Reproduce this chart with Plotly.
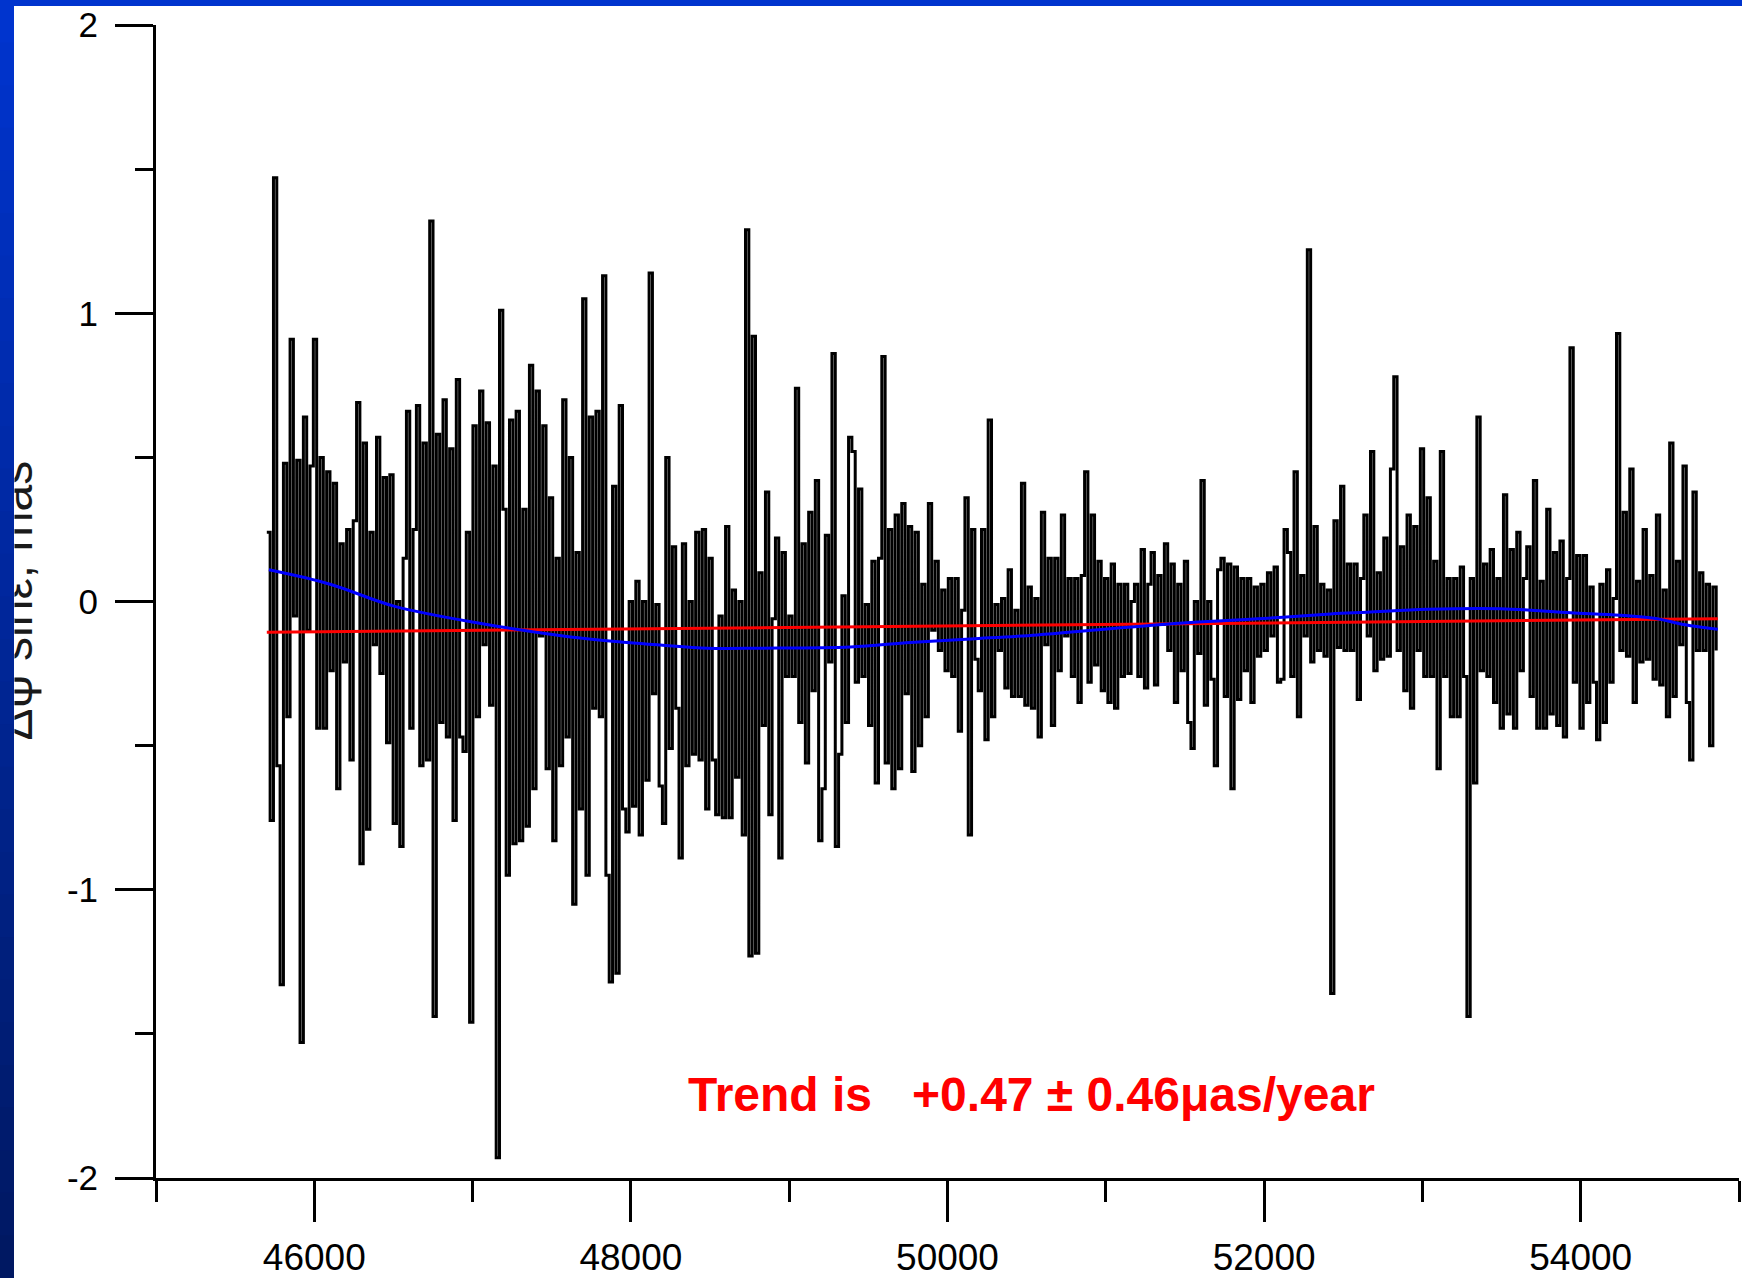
import plotly.graph_objects as go

# ---------------- data ----------------
MJD_START = 45700
MJD_STEP = 21
DPSI_SINE = [
    0.24, -0.76, 1.47, -0.57, -1.33, 0.48, -0.40, 0.91, -0.05, 0.49,
    -1.53, 0.64, -0.10, 0.47, 0.91, -0.44, 0.50, -0.44, 0.45, -0.24,
    0.41, -0.65, 0.20, -0.21, 0.25, -0.55, 0.28, 0.69, -0.91, 0.55,
    -0.79, 0.24, -0.15, 0.57, -0.25, 0.43, -0.49, 0.44, -0.77, 0.00,
    -0.85, 0.15, 0.66, -0.44, 0.25, 0.68, -0.57, 0.55, -0.55, 1.32,
    -1.44, 0.58, -0.42, 0.70, -0.47, 0.53, -0.76, 0.77, -0.47, -0.52,
    0.24, -1.46, 0.61, -0.40, 0.73, -0.15, 0.62, -0.36, 0.47, -1.93,
    1.01, 0.32, -0.95, 0.63, -0.84, 0.66, -0.83, 0.32, -0.78, 0.82,
    -0.65, 0.73, -0.12, 0.61, -0.58, 0.36, -0.83, 0.15, -0.57, 0.70,
    -0.47, 0.50,
    -1.05, 0.17, -0.72, 1.05, -0.95, 0.64, -0.37, 0.66, -0.40, 1.13,
    -0.95, -1.32, 0.40, -1.29, 0.68, -0.72, -0.80, 0.00, -0.71, 0.07,
    -0.81, 0.00, -0.62, 1.14, -0.32, -0.01, -0.64, -0.77, 0.50, -0.51,
    0.19, -0.37, -0.89, 0.20, -0.57, 0.00, -0.53, 0.24, -0.55, 0.25,
    -0.72, 0.15, -0.55, -0.74, -0.05, -0.75, 0.26, -0.75, 0.04, -0.61,
    0.00, -0.81, 1.29, -1.23, 0.92, -1.22, 0.10, -0.43, 0.38, -0.74,
    -0.06, 0.22, -0.89, 0.17, -0.26, -0.05, -0.26, 0.74, -0.42, 0.20,
    -0.56, 0.31, -0.31, 0.42, -0.83, -0.65, 0.23, -0.21, 0.86, -0.85,
    -0.53, 0.02, -0.42, 0.57, 0.52, -0.28, 0.39, -0.26, -0.01, -0.43,
    0.14, -0.63, 0.15,
    0.85, -0.56, 0.25, -0.65, 0.30, -0.58, 0.34, -0.32, 0.26, -0.59,
    0.24, -0.50, 0.06, -0.40, 0.34, -0.10, 0.14, -0.17, 0.04, -0.24,
    0.08, -0.26, 0.08, -0.45, -0.03, 0.36, -0.81, 0.25, -0.20, -0.31,
    0.25, -0.48, 0.63, -0.40, -0.01, -0.17, 0.01, -0.30, 0.11, -0.33,
    -0.03, -0.33, 0.41, -0.36, 0.05, -0.37, 0.01, -0.47, 0.31, -0.15,
    0.15, -0.43, 0.15, -0.24, 0.30, -0.12, 0.08, -0.26, 0.08, -0.35,
    0.09, 0.45, -0.28, 0.30, -0.22, 0.14, -0.31, 0.08, -0.35, 0.13,
    -0.37, 0.06, -0.26, 0.06, -0.25, 0.00, 0.06, -0.26, 0.18, -0.30,
    0.06, 0.17, -0.29, 0.09, -0.08, 0.20, -0.17, 0.13, -0.35, 0.06,
    -0.24, 0.14, -0.42,
    -0.51, 0.00, -0.18, 0.42, -0.36, 0.00, -0.27, -0.57, 0.11, 0.15,
    -0.33, 0.13, -0.65, 0.12, -0.34, 0.08, -0.24, 0.08, -0.35, 0.05,
    -0.19, 0.06, -0.17, 0.10, -0.12, 0.12, -0.28, -0.27, 0.25, 0.17,
    -0.26, 0.45, -0.40, 0.09, -0.12, 1.22, -0.21, 0.26, -0.17, 0.06,
    -0.19, 0.04, -1.36, 0.28, -0.16, 0.40, -0.17, 0.13, -0.17, 0.13,
    -0.34, 0.08, 0.30, -0.12, 0.52, -0.24, 0.10, -0.20, 0.22, -0.19,
    0.46, 0.78, -0.17, 0.19, -0.31, 0.30, -0.37, 0.26, -0.17, 0.53,
    -0.26, 0.36, -0.26, 0.14, -0.58, 0.52, -0.26, 0.08, -0.40, 0.08,
    -0.40, 0.12, -0.26, -1.44, 0.08, -0.63, 0.64, -0.24, 0.13, -0.26,
    0.18, -0.35, 0.08, -0.44,
    0.37, -0.39, 0.18, -0.44, 0.24, -0.24, 0.08, 0.19, -0.33, 0.42,
    -0.44, 0.07, -0.44, 0.32, -0.39, 0.17, -0.43, 0.21, -0.47, 0.08,
    0.88, -0.28, 0.16, -0.44, 0.16, -0.35, 0.05, -0.28, -0.48, 0.06,
    -0.42, 0.11, -0.28, 0.01, 0.93, -0.17, 0.31, -0.19, 0.46, -0.35,
    0.07, -0.21, 0.25, -0.20, 0.09, -0.27, 0.30, -0.29, 0.04, -0.40,
    0.55, -0.33, 0.14, -0.15, 0.47, -0.35, -0.55, 0.38, -0.17, 0.10,
    -0.17, 0.06, -0.50, 0.05, -0.17,
]
MJD = [MJD_START + MJD_STEP * i for i in range(len(DPSI_SINE))]

TREND_MJD = [45700, 54866]
TREND_VAL = [-0.107, -0.060]

SMOOTH_MJD = [45713, 46100, 46503, 47071, 47619, 47976, 48187, 48482, 48819,
              49387, 49767, 50146, 50567, 50988, 51536, 51999, 52420, 52651,
              53030, 53494, 53936, 54252, 54504, 54631, 54866]
SMOOTH_VAL = [0.11, 0.06, -0.016, -0.078, -0.123, -0.142, -0.151, -0.162, -0.162,
              -0.158, -0.142, -0.130, -0.116, -0.096, -0.073, -0.059, -0.043, -0.037,
              -0.027, -0.025, -0.039, -0.048, -0.062, -0.078, -0.096]

X_TICKS = [46000, 48000, 50000, 52000, 54000]
X_LABELS = ["46000", "48000", "50000", "52000", "54000"]
Y_TICKS = [-2, -1, 0, 1, 2]
Y_LABELS = ["-2", "-1", "0", "1", "2"]

Y_TITLE = "Δψ sinε, mas"
TREND_TEXT = "Trend is\u00a0\u00a0\u00a0+0.47 ± 0.46μas/year"

# ---------------- layout geometry ----------------
W, H = 1742, 1278
ML, MR, MT, MB = 156, 3, 25, 100
PW = W - ML - MR
PH = H - MT - MB
FONT = "Liberation Sans, Arial, sans-serif"


def px_x(px):
    return (px - ML) / PW


def px_y(py):
    return (H - MB - py) / PH


fig = go.Figure()
fig.add_trace(go.Scatter(x=MJD, y=DPSI_SINE, mode="lines", line_shape="hv",
                         line=dict(color="black", width=3.0), hoverinfo="skip"))
fig.add_trace(go.Scatter(x=TREND_MJD, y=TREND_VAL, mode="lines",
                         line=dict(color="#ff0000", width=3), hoverinfo="skip"))
fig.add_trace(go.Scatter(x=SMOOTH_MJD, y=SMOOTH_VAL, mode="lines", line_shape="spline",
                         line=dict(color="#0000ff", width=3), hoverinfo="skip"))

# slide-style blue frame (left strip with gradient, top strip)
shapes = []
steps = 30
c0 = (0, 52, 206)
c1 = (0, 24, 98)
for k in range(steps):
    t = k / (steps - 1)
    col = "rgb(%d,%d,%d)" % tuple(round(a + (b - a) * t) for a, b in zip(c0, c1))
    y_top = H * k / steps
    y_bot = H * (k + 1) / steps + 1
    shapes.append(dict(type="rect", xref="paper", yref="paper",
                       x0=px_x(0), x1=px_x(14), y0=px_y(y_bot), y1=px_y(y_top),
                       fillcolor=col, line=dict(width=0), layer="below"))
shapes.append(dict(type="rect", xref="paper", yref="paper",
                   x0=px_x(0), x1=px_x(W), y0=px_y(6), y1=px_y(0),
                   fillcolor="rgb(0,52,206)", line=dict(width=0), layer="below"))

annotations = [
    dict(text=Y_TITLE, textangle=-90, xref="paper", yref="paper",
         x=px_x(14), y=px_y(601), xanchor="left", yanchor="middle",
         showarrow=False, height=27, valign="bottom", borderpad=0, borderwidth=0,
         font=dict(family=FONT, size=48, color="#1a1a1a")),
    dict(text="<b>" + TREND_TEXT + "</b>", xref="paper", yref="paper",
         x=px_x(1031), y=px_y(1094), xanchor="center", yanchor="middle",
         showarrow=False, font=dict(family=FONT, size=48, color="#ff0000")),
]

axis_common = dict(showline=True, linecolor="black", linewidth=3, ticks="outside",
                   tickcolor="black", tickwidth=3, showgrid=False, zeroline=False,
                   mirror=False, automargin=False)

fig.update_layout(
    width=W, height=H,
    margin=dict(l=ML, r=MR, t=MT, b=MB, pad=0),
    paper_bgcolor="white", plot_bgcolor="white",
    showlegend=False,
    shapes=shapes,
    annotations=annotations,
    xaxis=dict(range=[45000, 55000], tickmode="array", tickvals=X_TICKS, ticktext=X_LABELS,
               ticklen=41, ticklabelstandoff=4,
               tickfont=dict(family=FONT, size=37, color="black"),
               minor=dict(tickmode="linear", tick0=45000, dtick=1000, ticks="outside",
                          ticklen=21, tickwidth=3, tickcolor="black", showgrid=False),
               **axis_common),
    yaxis=dict(range=[-2, 2], tickmode="array", tickvals=Y_TICKS, ticktext=Y_LABELS,
               ticklen=38, ticklabelstandoff=10,
               tickfont=dict(family=FONT, size=35, color="black"),
               minor=dict(tickmode="linear", tick0=-2, dtick=0.5, ticks="outside",
                          ticklen=18, tickwidth=3, tickcolor="black", showgrid=False),
               **axis_common),
)

fig.write_html("out.html", config={"displayModeBar": False},
               post_script="document.body.style.margin='0';document.body.style.overflow='hidden';")
